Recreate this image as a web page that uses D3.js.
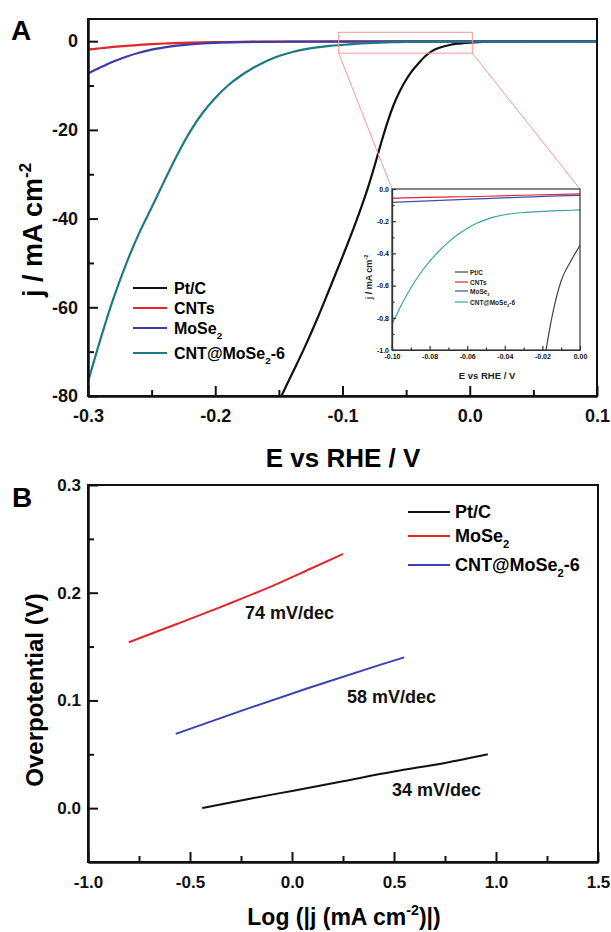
<!DOCTYPE html>
<html>
<head>
<meta charset="utf-8">
<script src="https://cdn.jsdelivr.net/npm/d3@7/dist/d3.min.js"></script>
<style>
body { margin: 0; background: #fff; }
svg { font-family: "Liberation Sans", Arial, sans-serif; font-weight: bold; }
</style>
</head>
<body>
<svg id="chart" width="611" height="932"></svg>
<script>
// ---- panel A : polarization curves (E vs RHE / V, j / mA cm-2)
var ptcE  = [-0.148, -0.14, -0.13, -0.12, -0.11, -0.10, -0.09, -0.08, -0.075, -0.07, -0.065, -0.06, -0.055, -0.05, -0.045, -0.04, -0.035, -0.03, -0.025, -0.02, -0.015, -0.01, -0.005, 0.0, 0.01, 0.02, 0.04, 0.1];
var ptcJ  = [-80, -75.2, -69.2, -62.7, -55.7, -48.6, -41.2, -33.0, -28.3, -23.3, -18.6, -14.5, -11.3, -8.7, -6.6, -4.9, -3.4, -2.3, -1.6, -1.15, -0.8, -0.57, -0.45, -0.35, -0.15, -0.06, -0.02, 0];
var cntsE = [-0.3, -0.29, -0.28, -0.27, -0.26, -0.25, -0.24, -0.22, -0.2, -0.18, -0.15, -0.1, -0.05, 0, 0.1];
var cntsJ = [-1.9, -1.6, -1.3, -1.05, -0.85, -0.68, -0.52, -0.32, -0.2, -0.13, -0.09, -0.058, -0.045, -0.03, -0.02];
var moseE = [-0.3, -0.29, -0.28, -0.27, -0.26, -0.25, -0.24, -0.23, -0.22, -0.21, -0.2, -0.18, -0.16, -0.14, -0.12, -0.1, -0.05, 0, 0.1];
var moseJ = [-7.3, -5.9, -4.6, -3.5, -2.6, -1.9, -1.4, -1.0, -0.72, -0.52, -0.38, -0.22, -0.15, -0.11, -0.095, -0.083, -0.06, -0.04, -0.03];
var hybE  = [-0.3, -0.29, -0.28, -0.27, -0.26, -0.25, -0.24, -0.23, -0.22, -0.21, -0.2, -0.19, -0.18, -0.17, -0.16, -0.15, -0.14, -0.13, -0.12, -0.11, -0.1, -0.095, -0.09, -0.085, -0.08, -0.075, -0.07, -0.065, -0.06, -0.055, -0.05, -0.045, -0.04, -0.03, -0.02, -0.01, 0, 0.05, 0.1];
var hybJ  = [-76.8, -67.0, -58.0, -50.2, -43.4, -37.5, -31.5, -25.7, -20.5, -16.2, -12.8, -10.0, -7.8, -6.0, -4.5, -3.35, -2.5, -1.85, -1.4, -1.07, -0.84, -0.72, -0.615, -0.525, -0.45, -0.385, -0.33, -0.283, -0.245, -0.213, -0.19, -0.172, -0.16, -0.146, -0.139, -0.134, -0.13, -0.1, -0.08];

var seriesA = ["Pt/C", "CNTs", "MoSe_{2}", "CNT@MoSe_{2}-6"];
var colorsA = ["#111111", "#e3262b", "#3b3ca8", "#1c7b82"];
var insetColors = ["#444444", "#e3262b", "#3b4fb0", "#3aa3a3"];

var xTicksA = [-0.3, -0.2, -0.1, 0.0, 0.1];
var xMinorA = [-0.25, -0.15, -0.05, 0.05];
var yTicksA = [0, -20, -40, -60, -80];
var yMinorA = [-10, -30, -50, -70];

var xTicksIn = [-0.10, -0.08, -0.06, -0.04, -0.02, 0.00];
var xMinorIn = [-0.09, -0.07, -0.05, -0.03, -0.01];
var yTicksIn = [0.0, -0.2, -0.4, -0.6, -0.8, -1.0];
var yMinorIn = [-0.1, -0.3, -0.5, -0.7, -0.9];

// ---- panel B : Tafel plots
var tafPtX  = [-0.44, -0.2, 0, 0.25, 0.5, 0.75, 0.96];
var tafPtY  = [0.0, 0.009, 0.016, 0.025, 0.034, 0.042, 0.05];
var tafMoX  = [-0.8, -0.565, -0.32, -0.075, 0.088, 0.25];
var tafMoY  = [0.154, 0.171, 0.189, 0.208, 0.222, 0.236];
var tafHybX = [-0.57, -0.239, 0.088, 0.431, 0.55];
var tafHybY = [0.069, 0.091, 0.112, 0.133, 0.14];

var seriesB = ["Pt/C", "MoSe_{2}", "CNT@MoSe_{2}-6"];
var colorsB = ["#111111", "#e3262b", "#3842b0"];
var slopesB = ["34 mV/dec", "74 mV/dec", "58 mV/dec"];

var xTicksB = [-1.0, -0.5, 0.0, 0.5, 1.0, 1.5];
var xMinorB = [-0.75, -0.25, 0.25, 0.75, 1.25];
var yTicksB = [0.0, 0.1, 0.2, 0.3];
var yMinorB = [0.05, 0.15, 0.25];

function zip(a, b) { return a.map(function (v, i) { return [v, b[i]]; }); }

// text with _{sub} and ^{sup} pieces
function richText(sel, str, fs) {
	var parts = str.split(/(_\{[^}]*\}|\^\{[^}]*\})/).filter(function (p) { return p.length; });
	var shift = 0;
	parts.forEach(function (p) {
		var t = sel.append("tspan");
		var target = 0, size = fs;
		if (p[0] == "_") { target = fs * 0.33; size = fs * 0.62; p = p.slice(2, -1); }
		else if (p[0] == "^") { target = -fs * 0.42; size = fs * 0.62; p = p.slice(2, -1); }
		t.attr("dy", target - shift).attr("font-size", size).text(p);
		shift = target;
	});
}

var fmt1 = function (d) { return d.toFixed(1); };
var fmt2 = function (d) { return d.toFixed(2); };

function drawAxes(g, x, y, o) {
	var h = y.range()[0], top = y.range()[1];
	g.append("g").attr("transform", "translate(0," + h + ")")
		.call(d3.axisBottom(x).tickValues(o.xt).tickFormat(o.xf).tickSize(-o.major).tickSizeOuter(0).tickPadding(o.xpad));
	g.append("g").attr("transform", "translate(0," + h + ")")
		.call(d3.axisBottom(x).tickValues(o.xm).tickFormat("").tickSize(-o.minor).tickSizeOuter(0));
	g.append("g").attr("transform", "translate(" + x.range()[0] + ",0)")
		.call(d3.axisLeft(y).tickValues(o.yt).tickFormat(o.yf).tickSize(-o.major).tickSizeOuter(0).tickPadding(o.ypad));
	g.append("g").attr("transform", "translate(" + x.range()[0] + ",0)")
		.call(d3.axisLeft(y).tickValues(o.ym).tickFormat("").tickSize(-o.minor).tickSizeOuter(0));
	g.selectAll(".tick line, .domain").attr("stroke", o.stroke).attr("stroke-width", o.sw);
	g.selectAll(".tick text").attr("font-size", o.fs).attr("font-family", null).attr("fill", "#111");
	g.selectAll("g").attr("font-family", null).attr("font-size", null);
	g.append("rect")
		.attr("x", x.range()[0]).attr("y", top)
		.attr("width", x.range()[1] - x.range()[0]).attr("height", h - top)
		.attr("fill", "none").attr("stroke", o.stroke).attr("stroke-width", o.sw);
}

var svg = d3.select("#chart");

// ================= panel A
var xA = d3.scaleLinear().domain([-0.3, 0.1]).range([88, 597]);
var yA = d3.scaleLinear().domain([-80, 5]).range([396, 19]);

svg.append("clipPath").attr("id", "clipA").append("rect")
	.attr("x", 88).attr("y", 19).attr("width", 597 - 88).attr("height", 396 - 19);

var dataA = [zip(ptcE, ptcJ), zip(cntsE, cntsJ), zip(moseE, moseJ), zip(hybE, hybJ)];

var lineA = d3.line().x(function (d) { return xA(d[0]); }).y(function (d) { return yA(d[1]); }).curve(d3.curveMonotoneX);

var gA = svg.append("g");
gA.append("g").attr("clip-path", "url(#clipA)")
	.selectAll("path").data(dataA).enter().append("path")
	.attr("d", lineA)
	.attr("fill", "none")
	.attr("stroke", function (d, i) { return colorsA[i]; })
	.attr("stroke-width", 2.2);

drawAxes(gA, xA, yA, { xt: xTicksA, xm: xMinorA, yt: yTicksA, ym: yMinorA, xf: fmt1, yf: function (d) { return String(d); },
	major: 10, minor: 6, xpad: 13, ypad: 10, fs: 18, sw: 2, stroke: "#111" });

svg.append("text").attr("x", 11).attr("y", 40).attr("font-size", 28).text("A");

svg.append("text").attr("x", 343).attr("y", 467).attr("text-anchor", "middle").attr("font-size", 26).text("E vs RHE / V");
richText(svg.append("text").attr("text-anchor", "middle").attr("font-size", 27)
	.attr("transform", "translate(42,230) rotate(-90)"), "j / mA cm^{-2}", 27);

// legend A
var legA = svg.append("g");
var legAy = [288, 308, 328, 353];
seriesA.forEach(function (s, i) {
	legA.append("line").attr("x1", 133).attr("x2", 167).attr("y1", legAy[i]).attr("y2", legAy[i])
		.attr("stroke", colorsA[i]).attr("stroke-width", 2);
	richText(legA.append("text").attr("x", 174).attr("y", legAy[i] + 6).attr("font-size", 16), s, 16);
});

// zoom box and guide lines
var zx0 = xA(-0.103), zx1 = xA(0.002), zy0 = yA(2), zy1 = yA(-2.7);
svg.append("rect").attr("x", zx0).attr("y", zy0).attr("width", zx1 - zx0).attr("height", zy1 - zy0)
	.attr("fill", "none").attr("stroke", "#f29a9a").attr("stroke-width", 1);

// ================= inset
var xI = d3.scaleLinear().domain([-0.1, 0]).range([392, 580]);
var yI = d3.scaleLinear().domain([-1, 0]).range([350, 189]);

svg.append("line").attr("x1", zx0).attr("y1", zy1).attr("x2", xI.range()[0]).attr("y2", yI.range()[1])
	.attr("stroke", "#f29a9a").attr("stroke-width", 1);
svg.append("line").attr("x1", zx1).attr("y1", zy1).attr("x2", xI.range()[1]).attr("y2", yI.range()[1])
	.attr("stroke", "#f29a9a").attr("stroke-width", 1);

svg.append("rect").attr("x", 392).attr("y", 189).attr("width", 188).attr("height", 161).attr("fill", "#fff");
svg.append("clipPath").attr("id", "clipI").append("rect")
	.attr("x", 392).attr("y", 189).attr("width", 188).attr("height", 161);

var lineI = d3.line().x(function (d) { return xI(d[0]); }).y(function (d) { return yI(d[1]); }).curve(d3.curveMonotoneX);
var gI = svg.append("g");
gI.append("g").attr("clip-path", "url(#clipI)")
	.selectAll("path").data(dataA).enter().append("path")
	.attr("d", lineI)
	.attr("fill", "none")
	.attr("stroke", function (d, i) { return insetColors[i]; })
	.attr("stroke-width", 1.2);

drawAxes(gI, xI, yI, { xt: xTicksIn, xm: xMinorIn, yt: yTicksIn, ym: yMinorIn, xf: fmt2, yf: fmt1,
	major: 4, minor: 2.5, xpad: 4, ypad: 3, fs: 7, sw: 1.2, stroke: "#333" });

svg.append("text").attr("x", 487).attr("y", 379).attr("text-anchor", "middle").attr("font-size", 9.5).attr("fill", "#222").text("E vs RHE / V");
richText(svg.append("text").attr("text-anchor", "middle").attr("font-size", 9).attr("fill", "#222")
	.attr("transform", "translate(372,277) rotate(-90)"), "j / mA cm^{-2}", 9);

var legI = svg.append("g");
var legIy = [272, 282, 291, 302];
seriesA.forEach(function (s, i) {
	legI.append("line").attr("x1", 455).attr("x2", 468).attr("y1", legIy[i]).attr("y2", legIy[i])
		.attr("stroke", insetColors[i]).attr("stroke-width", 1.2);
	richText(legI.append("text").attr("x", 470).attr("y", legIy[i] + 2.5).attr("font-size", 6.5).attr("fill", "#222"), s, 6.5);
});

// ================= panel B
var xB = d3.scaleLinear().domain([-1, 1.5]).range([88, 598]);
var yB = d3.scaleLinear().domain([-0.05, 0.3]).range([862, 485]);

var dataB = [zip(tafPtX, tafPtY), zip(tafMoX, tafMoY), zip(tafHybX, tafHybY)];
var lineB = d3.line().x(function (d) { return xB(d[0]); }).y(function (d) { return yB(d[1]); }).curve(d3.curveMonotoneX);

var gB = svg.append("g");
gB.selectAll("path.taf").data(dataB).enter().append("path")
	.attr("class", "taf")
	.attr("d", lineB)
	.attr("fill", "none")
	.attr("stroke", function (d, i) { return colorsB[i]; })
	.attr("stroke-width", 2);

drawAxes(gB, xB, yB, { xt: xTicksB, xm: xMinorB, yt: yTicksB, ym: yMinorB, xf: fmt1, yf: fmt1,
	major: 10, minor: 6, xpad: 14, ypad: 7, fs: 17, sw: 2, stroke: "#111" });

svg.append("text").attr("x", 12).attr("y", 507).attr("font-size", 28).text("B");

// slope labels (anchored in data coords)
var slopePos = [[0.49, 0.0115], [-0.23, 0.1756], [0.27, 0.0976]];
slopesB.forEach(function (s, i) {
	svg.append("text").attr("x", xB(slopePos[i][0])).attr("y", yB(slopePos[i][1]))
		.attr("font-size", 18).attr("fill", "#111").text(s);
});

var legB = svg.append("g");
var legBy = [512, 536, 565];
seriesB.forEach(function (s, i) {
	legB.append("line").attr("x1", 408).attr("x2", 450).attr("y1", legBy[i]).attr("y2", legBy[i])
		.attr("stroke", colorsB[i]).attr("stroke-width", 2);
	richText(legB.append("text").attr("x", 455).attr("y", legBy[i] + 6).attr("font-size", 18), s, 18);
});

svg.append("text").attr("text-anchor", "middle").attr("font-size", 24)
	.attr("transform", "translate(43,690) rotate(-90)").text("Overpotential (V)");
richText(svg.append("text").attr("x", 344).attr("y", 925).attr("text-anchor", "middle").attr("font-size", 23),
	"Log (|j (mA cm^{-2})|)", 23);
</script>
</body>
</html>
